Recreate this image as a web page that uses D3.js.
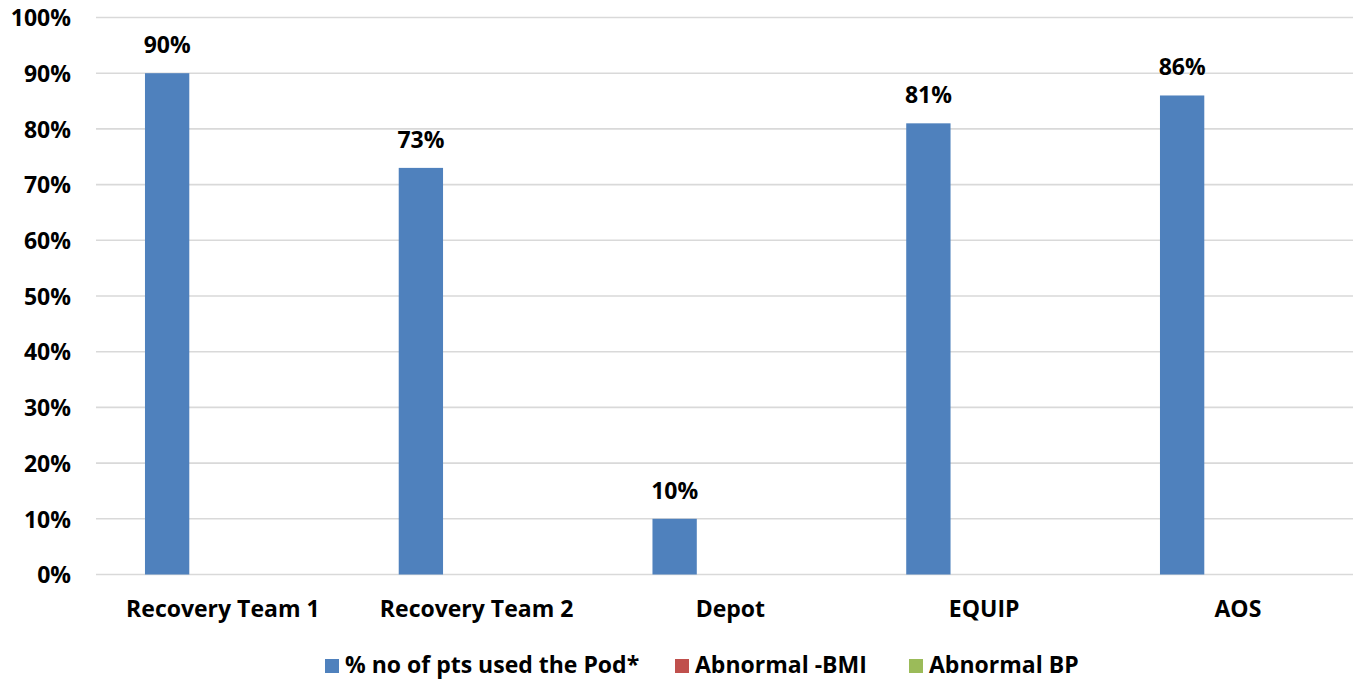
<!DOCTYPE html>
<html><head><meta charset="utf-8">
<script src="https://cdn.jsdelivr.net/npm/d3@7"></script>
<style>body{margin:0;background:#fff}svg{display:block}text{font-family:"Open Sans",Lato,sans-serif;font-weight:bold;fill:#000}</style>
</head><body>
<svg id="c" width="1353" height="682"></svg>
<script>
const categories = ["Recovery Team 1","Recovery Team 2","Depot","EQUIP","AOS"];
const seriesNames = ["% no of pts used the Pod*","Abnormal -BMI","Abnormal BP"];
const podUse = [90,73,10,81,86];
const abnormalBMI = [0,0,0,0,0];
const abnormalBP = [0,0,0,0,0];
const yTicks = [0,10,20,30,40,50,60,70,80,90,100];
const colors = ["#4F81BD","#C0504D","#9BBB59"];

const series = [podUse, abnormalBMI, abnormalBP];
const svg = d3.select("#c");
const mLeft = 96, mRight = 1364.75, mTop = 17.5, mBottom = 574.5;
const FS = 23;

const x0 = d3.scaleBand().domain(categories).range([mLeft, mRight]).paddingInner(0.386).paddingOuter(0.193);
const x1 = d3.scaleBand().domain(d3.range(3)).range([0, x0.bandwidth()]).paddingInner(0.205);
const y = d3.scaleLinear().domain([0,100]).range([mBottom, mTop]);

// gridlines
svg.append("g").selectAll("line").data(yTicks).join("line")
  .attr("x1", mLeft).attr("x2", 1353)
  .attr("y1", d => y(d)).attr("y2", d => y(d))
  .attr("stroke", "#D9D9D9").attr("stroke-width", 1.6);

// y labels
const yAxis = d3.axisLeft(y).tickValues(yTicks).tickFormat(d => d + "%").tickSize(0).tickPadding(0);
const ya = svg.append("g").attr("transform", `translate(71,0)`).call(yAxis);
ya.select(".domain").remove();
ya.selectAll("text").attr("font-size", FS).attr("font-family", null).attr("fill", "#000").attr("dy", "0.36em");

// bars
const groups = svg.append("g").selectAll("g").data(categories).join("g")
  .attr("transform", d => `translate(${x0(d)},0)`);
groups.selectAll("rect").data((d,i) => series.map((s,j) => ({j, v: s[i]}))).join("rect")
  .filter(d => d.v > 0)
  .attr("x", d => x1(d.j)).attr("width", x1.bandwidth())
  .attr("y", d => y(d.v)).attr("height", d => y(0) - y(d.v))
  .attr("fill", d => colors[d.j]);

// value labels
groups.selectAll("text.val").data((d,i) => [{j:0, v: podUse[i]}]).join("text")
  .attr("class","val")
  .attr("x", d => x1(d.j) + x1.bandwidth()/2).attr("y", d => y(d.v) - 20)
  .attr("text-anchor","middle").attr("font-size", FS).text(d => d.v + "%");

// x labels
const xAxis = d3.axisBottom(x0).tickSize(0).tickPadding(0);
const xa = svg.append("g").attr("transform", `translate(0,${mBottom})`).call(xAxis);
xa.select(".domain").remove();
xa.selectAll("text").attr("font-size", FS).attr("font-family", null).attr("fill", "#000").attr("dy", null).attr("y", 42.5);

// legend
const legX = [325, 675, 909];
const lg = svg.append("g").selectAll("g").data(seriesNames).join("g")
  .attr("transform", (d,i) => `translate(${legX[i]},659)`);
lg.append("rect").attr("width", 14).attr("height", 14).attr("fill", (d,i) => colors[i]);
lg.append("text").attr("x", 20).attr("y", 14).attr("font-size", FS).text(d => d);
</script>
</body></html>
